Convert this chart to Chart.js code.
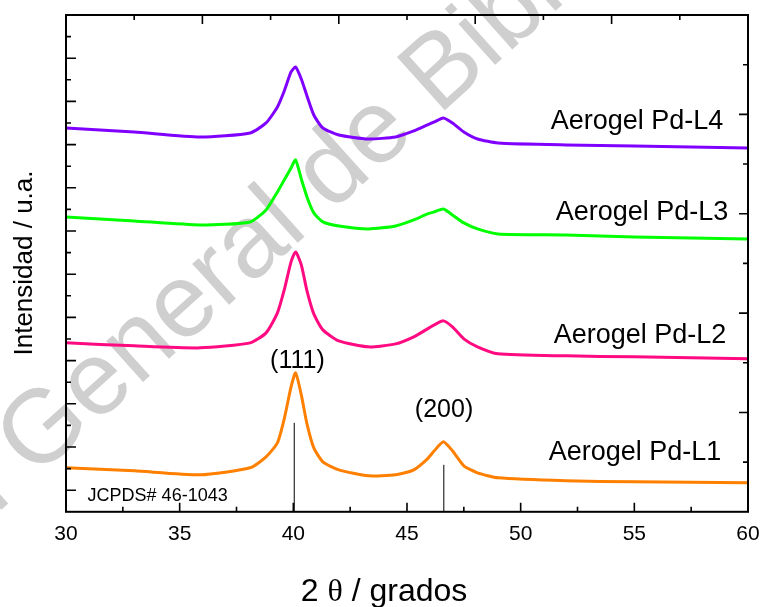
<!DOCTYPE html>
<html><head><meta charset="utf-8">
<script src="https://cdn.jsdelivr.net/npm/chart.js@4/dist/chart.umd.min.js"></script>
<style>html,body{margin:0;padding:0;background:#fff}</style>
</head><body>
<canvas id="c" width="762" height="607"></canvas>
<script>
// ---- data (2θ in degrees, intensity in a.u.) ----
const angles = [30,33,35.9,38.1,38.8,39.3,39.6,39.9,40.1,40.35,40.6,40.9,41.3,42.0,43.3,44.5,45.3,45.9,46.2,46.6,47.0,47.5,48.1,49.0,52,55,60];
const pdL1 = [44,41,37,44,55,69,93,125,139,117,88,64,50,42,36,37,42,53,61,70,61,46,39,34,31,30,29];
const pdL2 = [169,166,164,169,179,199,222,250,260,247,221,198,182,171,165,168,175,183,187,191,185,173,165,158,156,155,153];
const pdL3 = [295,291,287,290,302,320,332,344,352,333,315,299,290,286,283,286,292,298,300,303,297,289,283,278,277,275,273];
const pdL4 = [384,380,375,379,389,405,421,440,445,433,416,397,384,377,373,375,381,387,390,394,389,380,373,369,367,366,364];
const seriesNames = ['Aerogel Pd-L1','Aerogel Pd-L2','Aerogel Pd-L3','Aerogel Pd-L4'];
const jcpdsAngles = [40.04, 46.62];
const jcpdsIntensity = [89, 47];
const jcpdsLabel = 'JCPDS# 46-1043';
const planeLabels = ['(111)','(200)'];
const xTickLabels = [30,35,40,45,50,55,60];
const xMinorTicks = [32.5,37.5,42.5,47.5,52.5,57.5];
const topTicks = [33,36,39,42,45,48,51,54,57];
const leftTicks = [1,2,3,4,5,6,7,8,9,10,11,12,13,14,15,16,17,18,19,20,21,22];
const rightTicks = [1,2,3,4,5,6,7,8,9];

const colors = ['#FF8000','#FF0A80','#00FF00','#8000FF'];
const seriesData = [pdL1,pdL2,pdL3,pdL4];
// label anchors (data coordinates)
const seriesLabelAt = [{x:55.03,y:59},{x:55.25,y:176},{x:55.34,y:299},{x:55.12,y:390}];
const planeLabelAt = [{x:40.18,y:151},{x:46.63,y:102}];
const jcpdsLabelAt = {x:30.95,y:16};

const datasets = seriesData.map((arr,i)=>({
  label: seriesNames[i],
  data: angles.map((a,j)=>({x:a,y:arr[j]})),
  borderColor: colors[i], borderWidth: 3, pointRadius: 0,
  tension: 0.2, fill:false
}));
const stickData = [];
jcpdsAngles.forEach((a,i)=>{ stickData.push({x:a,y:0},{x:a,y:jcpdsIntensity[i]},{x:a+0.01,y:null}); });
datasets.push({label:'JCPDS', data:stickData, borderColor:'#000', borderWidth:1, pointRadius:0, spanGaps:false, tension:0});

const FONT = "'Liberation Sans', Arial, sans-serif";

const deco = {
  id:'deco',
  beforeDraw(chart){
    const ctx = chart.ctx;
    ctx.save();
    ctx.fillStyle = '#cfcfcf';
    ctx.font = "104px " + FONT;
    ctx.translate(-309, 789);
    ctx.rotate(-42*Math.PI/180);
    ctx.textBaseline = 'alphabetic';
    ctx.fillText('Dirección General de Bibliotecas', 0, 0);
    ctx.restore();
  },
  afterDatasetsDraw(chart){
    const {ctx, chartArea:a, scales} = chart;
    const x = scales.x, yL = scales.yL, yR = scales.yR;
    ctx.save();
    ctx.strokeStyle = '#000';
    ctx.lineWidth = 2;
    ctx.strokeRect(a.left, a.top, a.right-a.left, a.bottom-a.top);
    ctx.lineWidth = 1.6;
    ctx.beginPath();
    xTickLabels.forEach(v=>{const p=x.getPixelForValue(v); ctx.moveTo(p,a.bottom); ctx.lineTo(p,a.bottom-9);});
    xMinorTicks.forEach(v=>{const p=x.getPixelForValue(v); ctx.moveTo(p,a.bottom); ctx.lineTo(p,a.bottom-5);});
    topTicks.forEach(v=>{const p=x.getPixelForValue(v); const l=((v-30)%6===0)?9:5; ctx.moveTo(p,a.top); ctx.lineTo(p,a.top+l);});
    leftTicks.forEach(v=>{const p=yL.getPixelForValue(v); const l=(v%2===1)?10:5; ctx.moveTo(a.left,p); ctx.lineTo(a.left+l,p);});
    rightTicks.forEach(v=>{const p=yR.getPixelForValue(v); const l=(v%2===0)?9:5; ctx.moveTo(a.right,p); ctx.lineTo(a.right-l,p);});
    ctx.stroke();
    ctx.restore();
  },
  afterDraw(chart){
    const {ctx, chartArea:a, scales} = chart;
    const x = scales.x, y = scales.y;
    ctx.save();
    ctx.fillStyle = '#000';
    ctx.textAlign = 'center'; ctx.textBaseline = 'middle';
    ctx.font = "27px " + FONT;
    seriesNames.forEach((n,i)=>ctx.fillText(n, x.getPixelForValue(seriesLabelAt[i].x), y.getPixelForValue(seriesLabelAt[i].y)));
    ctx.font = "25px " + FONT;
    planeLabels.forEach((n,i)=>ctx.fillText(n, x.getPixelForValue(planeLabelAt[i].x), y.getPixelForValue(planeLabelAt[i].y)));
    ctx.font = "18px " + FONT;
    ctx.textAlign = 'left';
    ctx.fillText(jcpdsLabel, x.getPixelForValue(jcpdsLabelAt.x), y.getPixelForValue(jcpdsLabelAt.y));
    // y title
    ctx.save();
    ctx.translate(25, 263);
    ctx.rotate(-Math.PI/2);
    ctx.textAlign='center';
    ctx.font = "26px " + FONT;
    ctx.fillText('Intensidad / u.a.', 0, 0);
    ctx.restore();
    // x title with serif theta
    const parts = [["2 ", "32px "+FONT], ["θ", "32px 'Liberation Serif', serif"], [" / grados", "32px "+FONT]];
    let total = 0;
    parts.forEach(p=>{ctx.font=p[1]; total += ctx.measureText(p[0]).width;});
    let cx = 384 - total/2;
    ctx.textAlign='left'; ctx.textBaseline='alphabetic';
    parts.forEach(p=>{ctx.font=p[1]; ctx.fillText(p[0], cx, 601); cx += ctx.measureText(p[0]).width;});
    ctx.restore();
  }
};

new Chart(document.getElementById('c'), {
  type:'line',
  data:{datasets},
  options:{
    responsive:false, animation:false, devicePixelRatio:1,
    layout:{padding:{left:66,right:14,top:15,bottom:50}},
    plugins:{legend:{display:false}, tooltip:{enabled:false}},
    scales:{
      x:{type:'linear', min:30, max:60, position:'bottom',
         afterBuildTicks:(s)=>{ s.ticks = xTickLabels.map(v=>({value:v})); },
         afterFit:(s)=>{ s.paddingLeft = 0; s.paddingRight = 0; },
         ticks:{font:{family:FONT, size:21}, color:'#000', padding:10, maxRotation:0, autoSkip:false},
         grid:{display:false, drawTicks:false}, border:{display:false}},
      y:{type:'linear', min:0, max:497, display:false},
      yL:{type:'linear', min:0, max:23, display:false},
      yR:{type:'linear', min:0, max:10, display:false}
    }
  },
  plugins:[deco]
});
</script>
</body></html>
